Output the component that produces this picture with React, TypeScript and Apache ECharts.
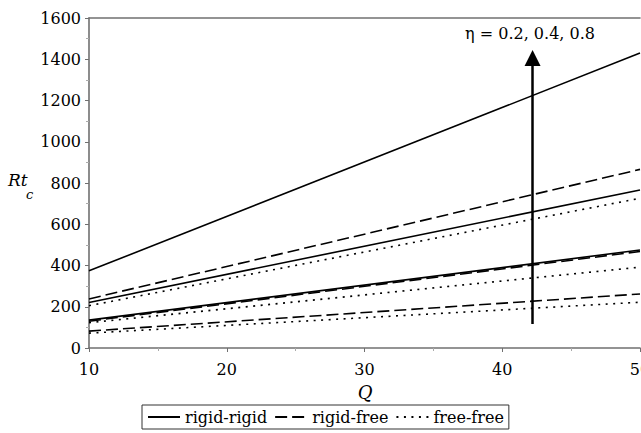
import React, { useEffect, useRef } from "react";
import * as echarts from "echarts";

// Q values at which each straight line is read (ends of the plotted range)
const Q = [10, 50];

// Rt_c values, at Q = 10 and Q = 50
const rigidRigidEta02 = [135, 475];
const rigidRigidEta04 = [221, 766];
const rigidRigidEta08 = [374, 1430];
const rigidFreeEta02 = [82, 262];
const rigidFreeEta04 = [130, 468];
const rigidFreeEta08 = [238, 866];
const freeFreeEta02 = [72, 222];
const freeFreeEta04 = [123, 392];
const freeFreeEta08 = [205, 726];

// arrow annotation (Q, Rt_c from bottom to tip)
const arrowQ = 42.2;
const arrowRt = [116, 1406];

const legendNames = ["rigid-rigid", "rigid-free", "free-free"];
const annotation = "η = 0.2, 0.4, 0.8";

export default function App() {
  const ref = useRef<HTMLDivElement>(null);

  useEffect(() => {
    const chart = echarts.init(ref.current!, null, { renderer: "svg" });
    const font = "DejaVu Serif";
    const axisColor = "#707070";
    const solid = "solid";
    const dashed = [12, 5];
    const dotted = [2, 5.5];

    const mk = (name: string, vals: number[], type: any, extra: any = {}) => ({
      name,
      type: "line",
      data: Q.map((q, i) => [q, vals[i]]),
      symbol: "none",
      showSymbol: false,
      silent: true,
      lineStyle: { color: "#000", width: 1.6, type },
      itemStyle: { color: "#000" },
      ...extra,
    });

    chart.setOption({
      animation: false,
      backgroundColor: "#fff",
      textStyle: { fontFamily: font },
      grid: { left: 89, top: 18, width: 551, height: 330 },
      legend: {
        data: legendNames,
        left: 142,
        top: 405,
        itemWidth: 32,
        itemHeight: 14,
        itemGap: 7,
        padding: [4, 5],
        borderColor: "#333",
        borderWidth: 1,
        selectedMode: false,
        itemStyle: { opacity: 0, borderWidth: 0 },
        textStyle: { fontFamily: font, fontSize: 16, color: "#000" },
      },
      xAxis: [
        {
          type: "value",
          min: 10,
          max: 50,
          interval: 10,
          position: "bottom",
          axisLine: { onZero: false, lineStyle: { color: axisColor, width: 1.6 } },
          axisTick: { show: true, length: 4, lineStyle: { color: axisColor } },
          minorTick: { show: true, splitNumber: 2, length: 3, lineStyle: { color: "#aaa" } },
          splitLine: { show: false },
          axisLabel: { margin: 13, fontFamily: font, fontSize: 16, color: "#000" },
        },
        {
          type: "value",
          min: 10,
          max: 50,
          position: "top",
          axisLine: { onZero: false, lineStyle: { color: axisColor, width: 1.6 } },
          axisTick: { show: false },
          axisLabel: { show: false },
          splitLine: { show: false },
        },
      ],
      yAxis: {
        type: "value",
        min: 0,
        max: 1600,
        interval: 200,
        axisLine: { show: true, onZero: false, lineStyle: { color: axisColor, width: 1.6 } },
        axisTick: { show: true, length: 4, lineStyle: { color: axisColor } },
        minorTick: { show: true, splitNumber: 2, length: 3, lineStyle: { color: "#aaa" } },
        splitLine: { show: false },
        axisLabel: {
          margin: 8,
          fontFamily: font,
          fontSize: 16,
          color: "#000",
          formatter: (v: number) => String(v),
        },
      },
      series: [
        mk("rigid-rigid", rigidRigidEta08, solid, {
          markLine: {
            silent: true,
            symbol: ["none", "triangle"],
            symbolSize: 16,
            label: { show: false },
            lineStyle: { color: "#000", width: 2.5, type: "solid" },
            data: [[{ coord: [arrowQ, arrowRt[0]] }, { coord: [arrowQ, arrowRt[1]] }]],
          },
        }),
        mk("rigid-rigid", rigidRigidEta04, solid),
        mk("rigid-rigid", rigidRigidEta02, solid),
        mk("rigid-free", rigidFreeEta08, dashed),
        mk("rigid-free", rigidFreeEta04, dashed),
        mk("rigid-free", rigidFreeEta02, dashed),
        mk("free-free", freeFreeEta08, dotted),
        mk("free-free", freeFreeEta04, dotted),
        mk("free-free", freeFreeEta02, dotted),
      ],
      graphic: [
        {
          type: "text",
          x: 530,
          y: 33,
          style: { text: annotation, fontFamily: font, fontSize: 16, fill: "#000", align: "center", verticalAlign: "middle" },
        },
        {
          type: "text",
          x: 365,
          y: 392,
          style: { text: "Q", fontFamily: font, fontStyle: "italic", fontSize: 18, fill: "#000", align: "center", verticalAlign: "middle" },
        },
        {
          type: "text",
          x: 8,
          y: 180,
          style: { text: "Rt", fontFamily: font, fontStyle: "italic", fontSize: 17, fill: "#000", verticalAlign: "middle" },
        },
        {
          type: "text",
          x: 26,
          y: 194,
          style: { text: "c", fontFamily: font, fontStyle: "italic", fontSize: 13, fill: "#000", verticalAlign: "middle" },
        },
      ],
    });

    return () => chart.dispose();
  }, []);

  return (
    <div style={{ position: "absolute", left: 0, top: 0, width: 641, height: 433, overflow: "hidden", background: "#fff" }}>
      <div ref={ref} style={{ width: 700, height: 433 }} />
    </div>
  );
}
